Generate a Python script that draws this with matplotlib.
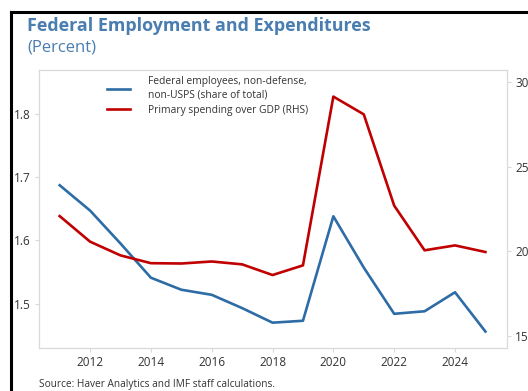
import matplotlib.pyplot as plt
from matplotlib.lines import Line2D

plt.rcParams['font.family'] = ['Open Sans', 'DejaVu Sans']

years = [2011, 2012, 2013, 2014, 2015, 2016, 2017, 2018, 2019, 2020,
         2021, 2022, 2023, 2024, 2025]
fed_emp = [1.687, 1.647, 1.595, 1.541, 1.522, 1.514, 1.493, 1.470, 1.473,
           1.638, 1.557, 1.484, 1.488, 1.518, 1.456]
prim_spend = [22.08, 20.57, 19.76, 19.30, 19.28, 19.40, 19.23, 18.60, 19.17,
              29.14, 28.09, 22.70, 20.06, 20.35, 19.96]

left_ticks = [1.5, 1.6, 1.7, 1.8]
right_ticks = [15, 20, 25, 30]
x_ticks = [2012, 2014, 2016, 2018, 2020, 2022, 2024]

blue = '#2e6ca6'
red = '#c00000'
grey = '#d9d9d9'
txt = '#333333'

W, H = 528, 391
fig = plt.figure(figsize=(W / 100, H / 100), dpi=100)
ax = fig.add_axes([39 / W, 1 - 348 / H, (507 - 39) / W, (348 - 70) / H])
ax2 = ax.twinx()

ax.plot(years, fed_emp, color=blue, lw=1.9, label='Federal employees, non-defense,\nnon-USPS (share of total)')
ax2.plot(years, prim_spend, color=red, lw=1.9, label='Primary spending over GDP (RHS)')

ax.set_xlim(2010.32, 2025.71)
ax.set_ylim(1.430, 1.869)
ax2.set_ylim(14.29, 30.71)
ax.set_xticks(x_ticks)
ax.set_yticks(left_ticks)
ax2.set_yticks(right_ticks)

for a in (ax, ax2):
    for s in a.spines.values():
        s.set_color(grey)
        s.set_linewidth(0.8)
    a.tick_params(colors=grey, labelcolor=txt, labelsize=8.5, length=3, width=0.8, pad=3)

h1, l1 = ax.get_legend_handles_labels()
h2, l2 = ax2.get_legend_handles_labels()
leg = ax.legend(h1 + h2, l1 + l2, loc='upper left', bbox_to_anchor=(0.125, 1.01),
                frameon=False, fontsize=7.4, handlelength=2.3, handletextpad=1.75,
                labelspacing=0.45, labelcolor=txt)

# outer frame lines (left and top)
fig.add_artist(Line2D([11 / W, 11 / W], [0, 1 - 12 / H], color='black', lw=2.2, transform=fig.transFigure))
fig.add_artist(Line2D([11 / W, 1], [1 - 12 / H, 1 - 12 / H], color='black', lw=2.2, transform=fig.transFigure))

fig.text(27 / W, 1 - 26 / H, 'Federal Employment and Expenditures', color='#4a7db0',
         fontsize=12.9, fontweight='bold', va='center', ha='left')
fig.text(27 / W, 1 - 48 / H, '(Percent)', color='#4a7db0', fontsize=12, va='center', ha='left')
fig.text(39 / W, 1 - 384 / H, 'Source: Haver Analytics and IMF staff calculations.', color=txt,
         fontsize=7.3, va='center', ha='left')

fig.savefig('out.png', dpi=100)
